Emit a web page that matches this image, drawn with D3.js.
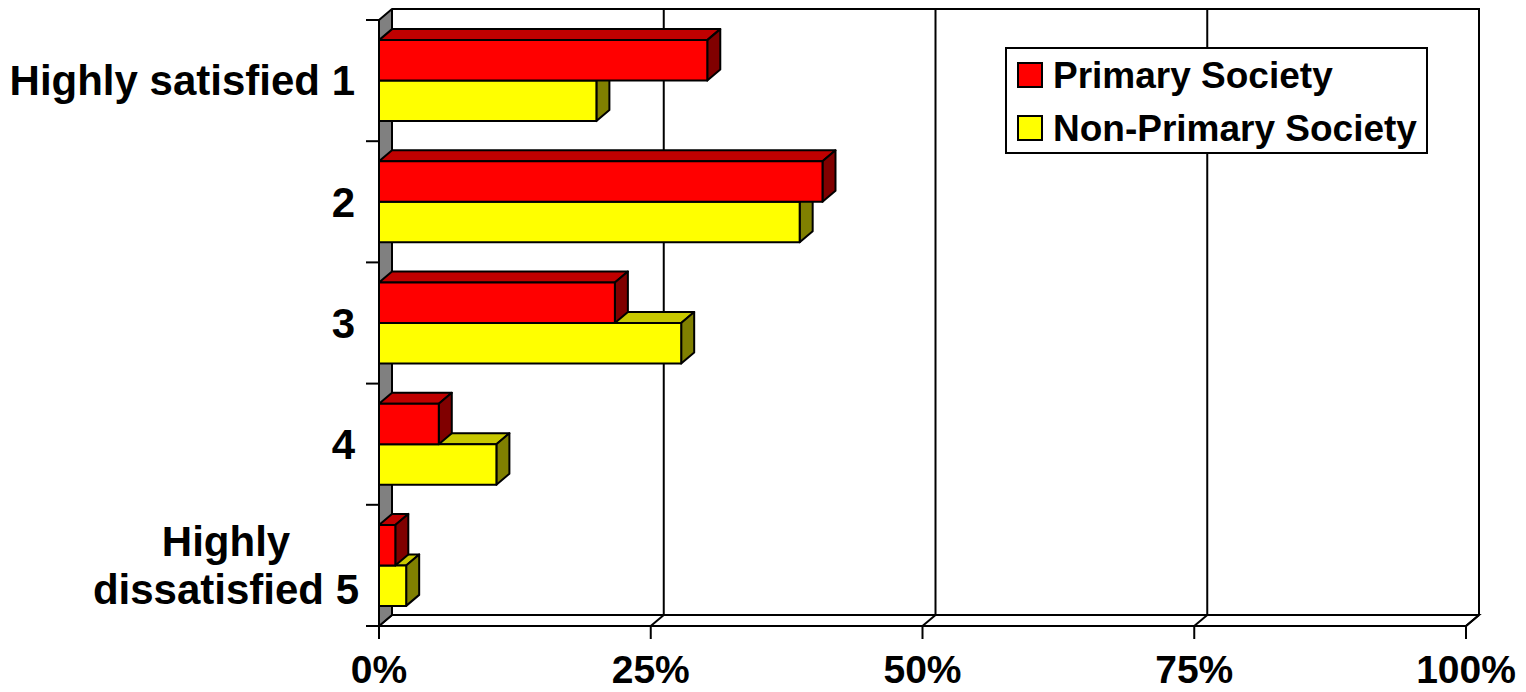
<!DOCTYPE html>
<html>
<head>
<meta charset="utf-8">
<script src="https://cdn.jsdelivr.net/npm/d3@7"></script>
<style>
  html, body { margin: 0; padding: 0; background: #fff; }
  svg { display: block; }
  text { font-family: "Liberation Sans", Arial, Helvetica, sans-serif; font-weight: bold; fill: #000; }
</style>
</head>
<body>
<svg id="chart" width="1526" height="692"></svg>
<script>
// ---- data ----
const categories = ["Highly satisfied 1", "2", "3", "4", "Highly dissatisfied 5"];
const categoryLines = [["Highly satisfied 1"], ["2"], ["3"], ["4"], ["Highly", "dissatisfied 5"]];
const seriesNames = ["Primary Society", "Non-Primary Society"];
const primaryValues = [30.2, 40.8, 21.7, 5.5, 1.5];
const nonPrimaryValues = [20, 38.7, 27.8, 10.8, 2.5];
const tickValues = [0, 25, 50, 75, 100];
const tickLabels = ["0%", "25%", "50%", "75%", "100%"];

// ---- styles ----
const colors = {
  "Primary Society": { front: "#FF0000", top: "#C00000", side: "#800000" },
  "Non-Primary Society": { front: "#FFFF00", top: "#C8C800", side: "#808000" }
};
const DX = 13, DY = 11;

const svg = d3.select("#chart");
const x = d3.scaleLinear().domain([0, 100]).range([379, 1466]);
const y = d3.scaleBand().domain(categories).range([20, 626]).paddingInner(0.332).paddingOuter(0.166);
const ySub = d3.scaleBand().domain(seriesNames).range([0, y.bandwidth()]);

const x0 = x(0), x1 = x(100);
const yTop = 20, yBot = 626;
const line = d3.line();

// back wall gridlines
const g = svg.append("g").attr("stroke", "#000").attr("stroke-width", 2).attr("fill", "none");
tickValues.forEach(v => {
  g.append("line").attr("x1", x(v) + DX).attr("x2", x(v) + DX).attr("y1", yTop - DY).attr("y2", yBot - DY);
  g.append("line").attr("x1", x(v)).attr("x2", x(v) + DX).attr("y1", yBot).attr("y2", yBot - DY);
});
// back wall top border
g.append("path").attr("d", line([[x0 + DX, yTop - DY], [x1 + DX, yTop - DY], [x1 + DX, yBot - DY]]));
// floor
g.append("path").attr("d", line([[x0 + DX, yBot - DY], [x1 + DX, yBot - DY], [x1, yBot], [x0, yBot]]));
// left wall
svg.append("path")
  .attr("d", line([[x0, yTop], [x0 + DX, yTop - DY], [x0 + DX, yBot - DY], [x0, yBot]]) + "Z")
  .attr("fill", "#808080").attr("stroke", "#000").attr("stroke-width", 2).attr("stroke-linejoin", "round");

// axis ticks
const yTicks = d3.range(categories.length + 1).map(i => yTop + i * y.step());
yTicks.forEach(t => {
  g.append("line").attr("x1", x0 - 13).attr("x2", x0).attr("y1", t).attr("y2", t);
});
tickValues.forEach(v => {
  g.append("line").attr("x1", x(v)).attr("x2", x(v)).attr("y1", yBot).attr("y2", yBot + 13);
});

// bars: draw from bottom category upward; within category, lower series first
const barsData = [];
categories.forEach((c, i) => {
  barsData.push({ cat: c, s: "Non-Primary Society", v: nonPrimaryValues[i] });
  barsData.push({ cat: c, s: "Primary Society", v: primaryValues[i] });
});
const order = barsData.slice().sort((a, b) =>
  categories.indexOf(b.cat) - categories.indexOf(a.cat) || (a.s === "Non-Primary Society" ? -1 : 1));

const barG = svg.append("g").attr("stroke", "#000").attr("stroke-width", 2).attr("stroke-linejoin", "round");
order.forEach(d => {
  const yt = y(d.cat) + ySub(d.s);
  const yb = yt + ySub.bandwidth();
  const xe = x(d.v);
  const col = colors[d.s];
  barG.append("path").attr("fill", col.top)
    .attr("d", line([[x0, yt], [x0 + DX, yt - DY], [xe + DX, yt - DY], [xe, yt]]) + "Z");
  barG.append("path").attr("fill", col.side)
    .attr("d", line([[xe, yt], [xe + DX, yt - DY], [xe + DX, yb - DY], [xe, yb]]) + "Z");
  barG.append("rect").attr("fill", col.front)
    .attr("x", x0).attr("y", yt).attr("width", xe - x0).attr("height", yb - yt);
});

// category labels
const catFont = 42;
categories.forEach((c, i) => {
  const lines = categoryLines[i];
  const cy = y(c) + y.bandwidth() / 2;
  const lh = 48;
  lines.forEach((t, j) => {
    const by = cy + (j - (lines.length - 1) / 2) * lh + catFont * 0.35;
    svg.append("text")
      .attr("x", lines.length > 1 ? 226 : 355)
      .attr("y", by)
      .attr("text-anchor", lines.length > 1 ? "middle" : "end")
      .attr("font-size", catFont)
      .text(t);
  });
});

// x tick labels
tickValues.forEach((v, i) => {
  svg.append("text")
    .attr("x", x(v))
    .attr("y", 683)
    .attr("text-anchor", "middle")
    .attr("font-size", 39)
    .text(tickLabels[i]);
});

// legend
const lg = svg.append("g");
lg.append("rect").attr("x", 1006).attr("y", 48).attr("width", 421).attr("height", 105)
  .attr("fill", "#fff").attr("stroke", "#000").attr("stroke-width", 2);
seriesNames.forEach((s, i) => {
  const base = 88 + i * 53;
  lg.append("rect").attr("x", 1018).attr("y", base - 25).attr("width", 24).attr("height", 24)
    .attr("fill", colors[s].front).attr("stroke", "#000").attr("stroke-width", 2);
  lg.append("text")
    .attr("x", 1053)
    .attr("y", base)
    .attr("font-size", 37)
    .text(s);
});
</script>
</body>
</html>
